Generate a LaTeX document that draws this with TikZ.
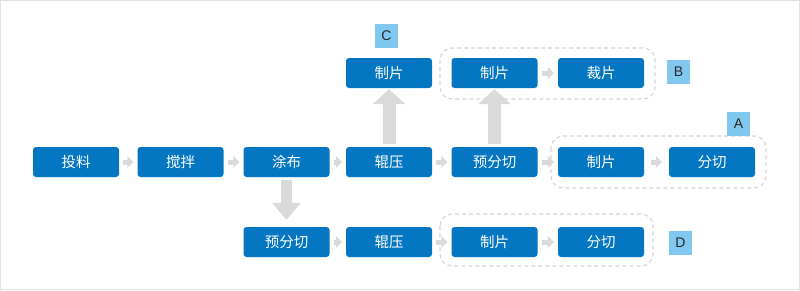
\documentclass[tikz,border=0pt]{standalone}
\usepackage{fontspec}
\newfontfamily\cjk{Noto Sans CJK SC}
\newfontfamily\lab{Liberation Sans}
\usetikzlibrary{arrows.meta}
\definecolor{boxblue}{RGB}{5,118,194}
\definecolor{tagblue}{RGB}{128,200,240}
\definecolor{arrgray}{RGB}{218,218,218}
\definecolor{dashgray}{RGB}{212,212,212}
\definecolor{framegray}{RGB}{225,225,225}
\definecolor{tagtext}{RGB}{40,40,40}
\tikzset{
  stepbox/.style={rectangle, rounded corners=3pt, fill=boxblue, minimum width=86pt, minimum height=30pt, inner sep=0pt, text=white, font=\cjk\fontsize{14.5}{16}\selectfont},
  tagbox/.style={rectangle, fill=tagblue, minimum width=23pt, minimum height=24pt, inner sep=0pt, text=tagtext, font=\lab\fontsize{14}{16}\selectfont},
  smallarr/.style={draw=arrgray, line width=5pt, -{Triangle[width=12pt,length=6pt]}, shorten <=4pt, shorten >=4pt},
  bigarr/.style={draw=arrgray, line width=13pt, -{Triangle[width=32pt,length=15pt]}},
  groupbox/.style={draw=dashgray, line width=1.1pt, dash pattern=on 4pt off 3pt, rounded corners=12pt}
}
\begin{document}
\begin{tikzpicture}[x=1pt,y=-1pt]
\useasboundingbox (0,0) rectangle (800,290);
\draw[framegray, line width=1pt] (0.5,0.5) rectangle (799.5,289.5);
% groups
\draw[groupbox] (440,48) rectangle (655,99);
\draw[groupbox] (551,136) rectangle (766,188);
\draw[groupbox] (440,214) rectangle (653,266);
% main row
\node[stepbox] (m1) at (76,162) {投料};
\node[stepbox] (m2) at (180.5,162) {搅拌};
\node[stepbox] (m3) at (286.5,162) {涂布};
\node[stepbox] (m4) at (389,162) {辊压};
\node[stepbox] (m5) at (494.5,162) {预分切};
\node[stepbox] (m6) at (601,162) {制片};
\node[stepbox] (m7) at (712,162) {分切};
% top row
\node[stepbox] (c1) at (389,73) {制片};
\node[stepbox] (b1) at (494.5,73) {制片};
\node[stepbox] (b2) at (601,73) {裁片};
% bottom row
\node[stepbox] (d1) at (286.5,242) {预分切};
\node[stepbox] (d2) at (389,242) {辊压};
\node[stepbox] (d3) at (494.5,242) {制片};
\node[stepbox] (d4) at (601,242) {分切};
% tags
\node[tagbox] (tC) at (386.5,36) {C};
\node[tagbox] (tB) at (678.5,71.5) {B};
\node[tagbox] (tA) at (738.5,123.5) {A};
\node[tagbox] (tD) at (680.5,242.5) {D};
% small arrows
\draw[smallarr] (m1.east) -- (m2.west);
\draw[smallarr] (m2.east) -- (m3.west);
\draw[smallarr] (m3.east) -- (m4.west);
\draw[smallarr] (m4.east) -- (m5.west);
\draw[smallarr] (m5.east) -- (m6.west);
\draw[smallarr, shorten <=7pt, shorten >=7pt] (m6.east) -- (m7.west);
\draw[smallarr] (b1.east) -- (b2.west);
\draw[smallarr] (d1.east) -- (d2.west);
\draw[smallarr] (d2.east) -- (d3.west);
\draw[smallarr] (d3.east) -- (d4.west);
% big arrows
\draw[bigarr, shorten <=3pt, shorten >=1pt] (m4.north) -- (c1.south);
\draw[bigarr, shorten <=3pt, shorten >=1pt] (m5.north) -- (b1.south);
\draw[draw=arrgray, line width=11pt, -{Triangle[width=28pt,length=17pt]}, shorten <=3pt, shorten >=7pt] (m3.south) -- (d1.north);
\end{tikzpicture}
\end{document}
